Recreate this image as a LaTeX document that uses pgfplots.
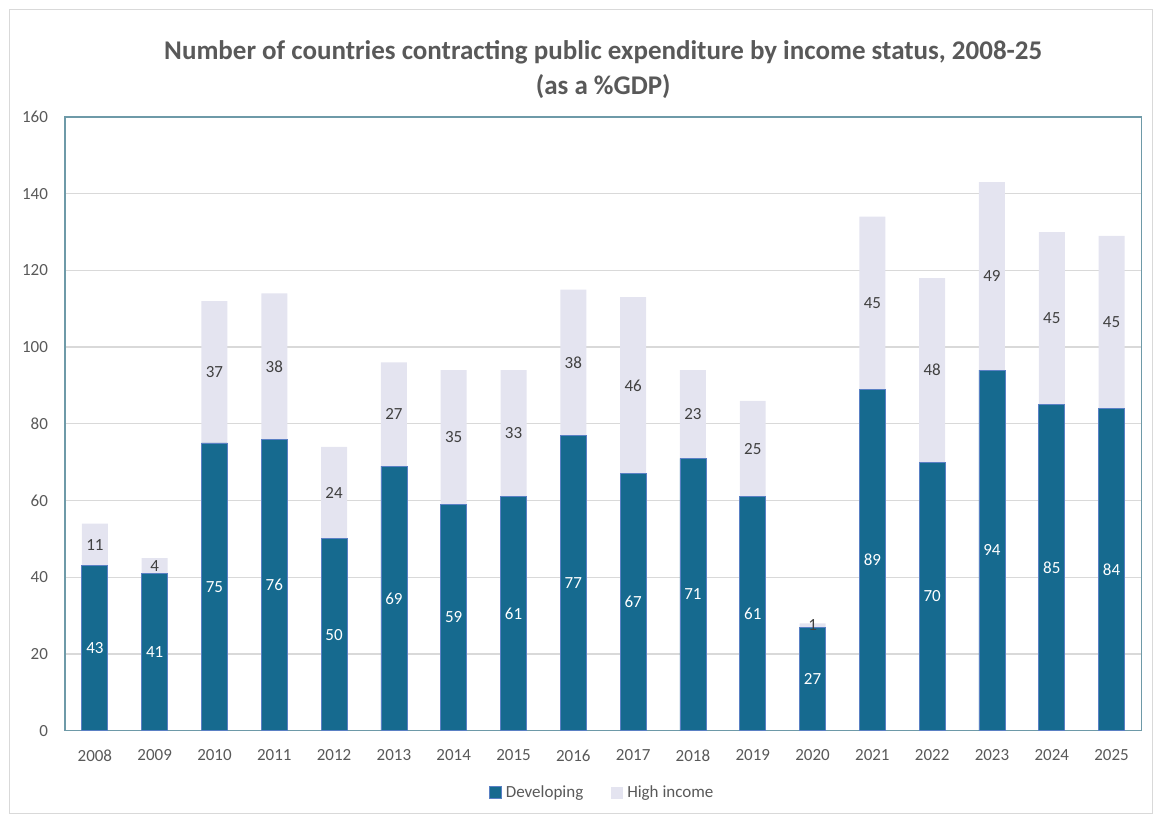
\documentclass[border=0pt]{standalone}
\usepackage{pgfplots}
\usepackage{pgfplotstable}
\pgfplotsset{compat=1.18}
\usepackage{fontspec}
\setmainfont{Carlito}

\definecolor{dev}{HTML}{166A8F}
\definecolor{hinc}{HTML}{E4E4F0}
\definecolor{devedge}{HTML}{5A80C4}
\definecolor{txt}{HTML}{595959}
\definecolor{frame}{HTML}{6E9AA8}

\pgfplotstableread{
x year dev hi
0 2008 43 11
1 2009 41 4
2 2010 75 37
3 2011 76 38
4 2012 50 24
5 2013 69 27
6 2014 59 35
7 2015 61 33
8 2016 77 38
9 2017 67 46
10 2018 71 23
11 2019 61 25
12 2020 27 1
13 2021 89 45
14 2022 70 48
15 2023 94 49
16 2024 85 45
17 2025 84 45
}\data

\begin{document}
\begin{tikzpicture}
\begin{axis}[
  at={(0,0)}, anchor=south west,
  scale only axis,
  width=538.5pt, height=307pt,
  ybar stacked,
  bar width=13pt,
  xmin=-0.5, xmax=17.5,
  ymin=0, ymax=160,
  ytick={0,20,...,160},
  xtick=data,
  xticklabels from table={\data}{year},
  /pgf/number format/assume math mode=true,
  ymajorgrids,
  grid style={draw=black!15, line width=0.6pt},
  axis line style={draw=frame, line width=0.6pt},
  major tick length=0pt,
  tick label style={font=\fontsize{8.5}{10}\selectfont, text=txt},
  xticklabel style={yshift=-6pt},
  yticklabel style={xshift=-5pt},
  legend style={at={(0.5,0)}, anchor=center, yshift=-31pt, draw=none,
    font=\fontsize{8.5}{10}\selectfont, text=txt,
    /tikz/every even column/.append style={column sep=12pt}},
  legend columns=2,
  legend image code/.code={\fill[#1] (0pt,-3pt) rectangle (6pt,3pt);},
  nodes near coords,
  every node near coord/.append style={anchor=center,
    font=\fontsize{8.5}{10}\selectfont},
  clip=false,
]
\addplot[fill=dev, draw=devedge, line width=0.4pt,
  every node near coord/.append style={text=white}]
  table[x=x, y=dev] {\data};
\addplot[fill=hinc, draw=none,
  every node near coord/.append style={text=black!75}]
  table[x=x, y=hi] {\data};
\legend{Developing, High income}
\end{axis}
\node[font=\bfseries\fontsize{13.5}{17.5}\selectfont, text=txt, align=center]
  at (269.25pt, 330.75pt) {Number of countries contracting public expenditure by income status, 2008-25\\(as a \%GDP)};
\draw[black!15, line width=0.5pt] (-27.5pt,-41.5pt) rectangle (544pt,360.5pt);
\path[use as bounding box] (-32.5pt,-41.5pt) rectangle (544pt,365.5pt);
\end{tikzpicture}
\end{document}
